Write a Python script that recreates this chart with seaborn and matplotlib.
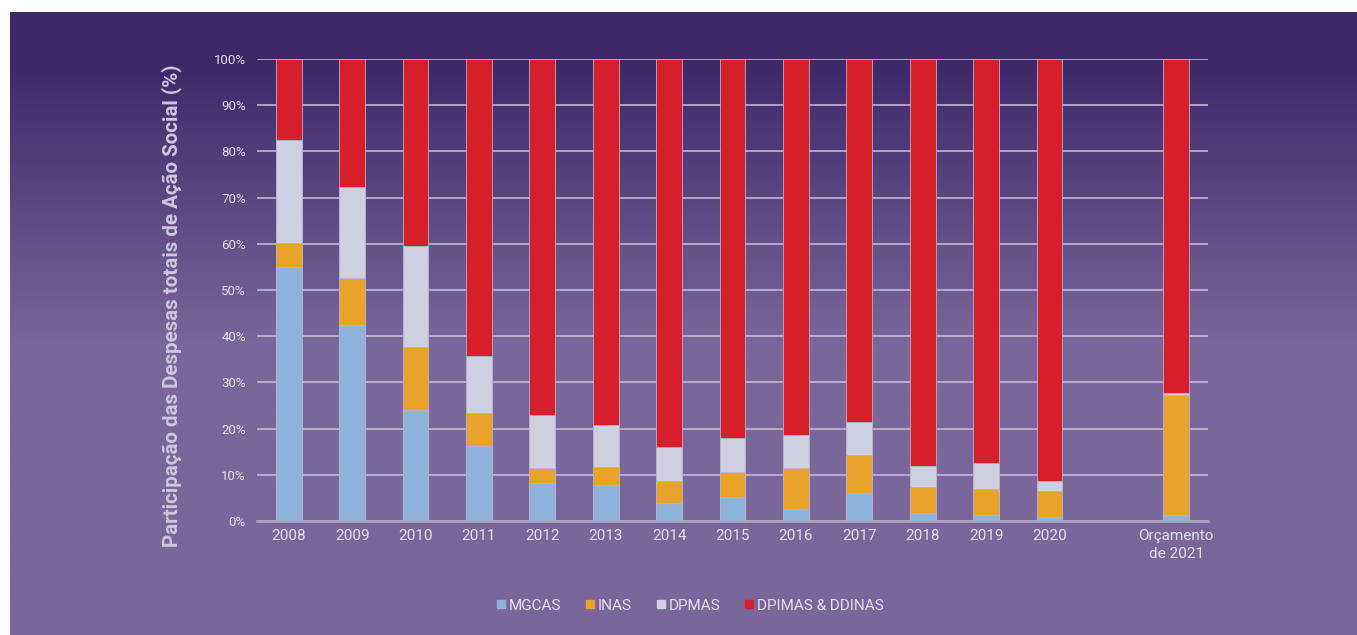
import numpy as np
import pandas as pd
import matplotlib
matplotlib.use("Agg")
import matplotlib.pyplot as plt
from matplotlib.lines import Line2D
import seaborn as sns

# dados (% das despesas totais de Ação Social)
anos = ["2008", "2009", "2010", "2011", "2012", "2013", "2014", "2015",
        "2016", "2017", "2018", "2019", "2020", " ", "Orçamento\nde 2021"]
anos_dados = anos[:13] + anos[14:]
mgcas = [55.0, 42.4, 24.0, 16.2, 8.2, 7.8, 3.9, 5.2, 2.6, 6.1, 1.7, 1.2, 0.9, 1.3]
inas = [5.2, 10.2, 13.7, 7.2, 3.3, 3.9, 4.8, 5.4, 8.9, 8.2, 5.7, 5.7, 5.7, 26.0]
dpmas = [22.3, 19.7, 21.8, 12.3, 11.4, 9.1, 7.3, 7.4, 7.1, 7.1, 4.4, 5.6, 2.1, 0.5]
dpimas = [100 - a - b - c for a, b, c in zip(mgcas, inas, dpmas)]

series = ["MGCAS", "INAS", "DPMAS", "DPIMAS & DDINAS"]
cores = ["#8db3d8", "#e9a22a", "#cfcfe2", "#d71f2c"]

df = pd.DataFrame({"ano": anos_dados, "MGCAS": mgcas, "INAS": inas,
                   "DPMAS": dpmas, "DPIMAS & DDINAS": dpimas})
# somas acumuladas para empilhar
cum = df[series].cumsum(axis=1)
cum["ano"] = df["ano"]

sns.set_theme(style="white")
plt.rcParams["font.family"] = ["Roboto", "DejaVu Sans"]

fig = plt.figure(figsize=(13.57, 6.35), dpi=100, facecolor="white")

# fundo em degradê roxo
bg = fig.add_axes([10 / 1357, 0, 1 - 10 / 1357, 623 / 635])
h = 400
t = np.clip((np.arange(h) / h - 0.08) / 0.45, 0, 1)
top = np.array([63, 40, 104]) / 255
bot = np.array([122, 102, 154]) / 255
grad = top[None, :] * (1 - t[:, None]) + bot[None, :] * t[:, None]
bg.imshow(np.repeat(grad[:, None, :], 10, axis=1), aspect="auto", extent=[0, 1, 0, 1])
bg.axis("off")

ax = fig.add_axes([257 / 1357, 114 / 635, 951 / 1357, 462 / 635])
ax.set_facecolor("none")

for s, c in reversed(list(zip(series, cores))):
    sns.barplot(data=cum, x="ano", y=s, order=anos, color=c, saturation=1,
                width=0.41, edgecolor="#b9b0cc", linewidth=0.6, ax=ax, zorder=3)

ax.set_xlim(-0.5, 14.5)
ax.set_ylim(0, 100)
ax.set_yticks(range(0, 101, 10))
ax.set_yticklabels([f"{v}%" for v in range(0, 101, 10)])
ax.yaxis.grid(True, color="#c9c1da", linewidth=1.1, zorder=0)
ax.set_axisbelow(True)
for sp in ["top", "right", "left"]:
    ax.spines[sp].set_visible(False)
ax.spines["bottom"].set_color("#aaa1be")
ax.spines["bottom"].set_linewidth(2)
ax.tick_params(axis="both", length=0, colors="#e4e0ee")
ax.tick_params(axis="y", labelsize=9.5, pad=8)
ax.tick_params(axis="x", labelsize=11, pad=6)
for lbl in ax.get_xticklabels():
    lbl.set_linespacing(1.3)
ax.set_xlabel("")
ax.set_ylabel("")
fig.text(172 / 1357, 0.518, "Participação das Despesas totais de Ação Social (%)",
         rotation=90, ha="center", va="center", fontsize=14.8,
         fontweight="bold", color="#cdc8de")

handles = [Line2D([0], [0], marker="s", linestyle="", markersize=6,
                  markerfacecolor=c, markeredgecolor=c) for c in cores]
leg = fig.legend(handles, series, loc="center", bbox_to_anchor=(0.508, 0.046),
                 ncol=4, frameon=False, fontsize=11, handletextpad=0.1,
                 columnspacing=1.5, handlelength=0.8)
for txt in leg.get_texts():
    txt.set_color("#e4e0ee")

fig.savefig("out.png", dpi=100, facecolor="white")
